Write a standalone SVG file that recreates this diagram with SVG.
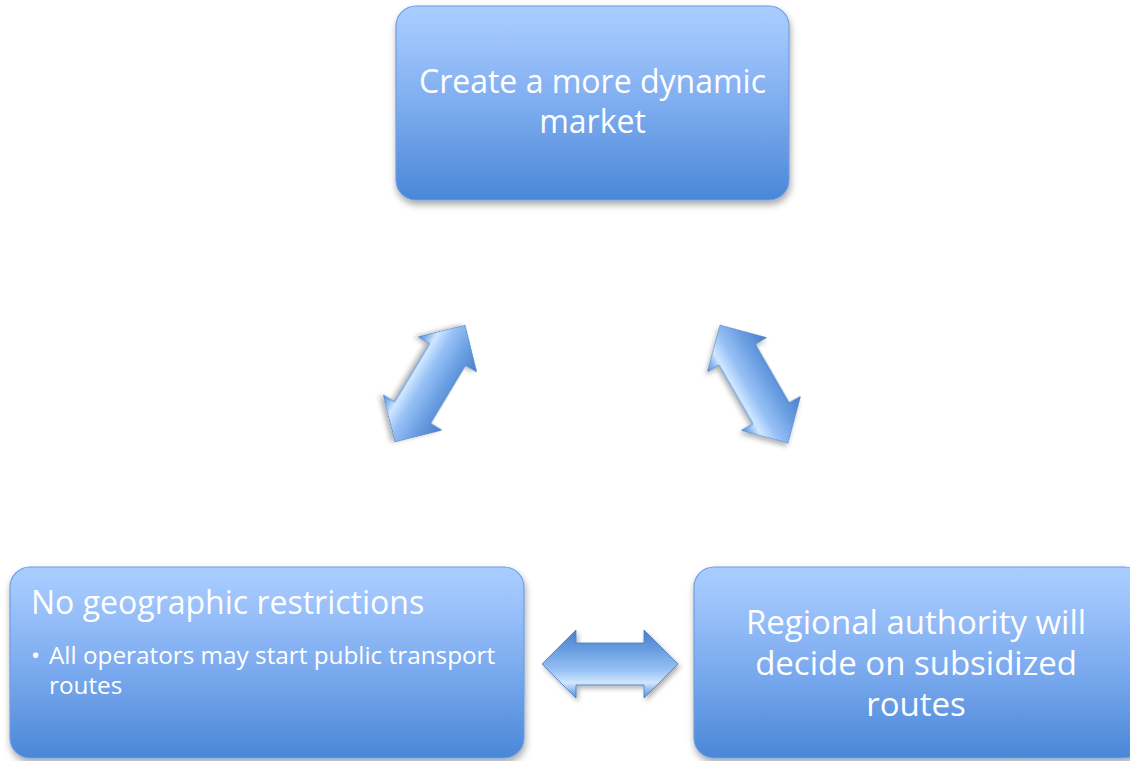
<svg xmlns="http://www.w3.org/2000/svg" width="1130" height="761" viewBox="0 0 1130 761">
<defs>
<linearGradient id="boxGrad" x1="0" y1="0" x2="0" y2="1">
<stop offset="0" stop-color="#a9cdff"/>
<stop offset="0.12" stop-color="#a2c7fd"/>
<stop offset="0.5" stop-color="#7fadf0"/>
<stop offset="1" stop-color="#4a87d8"/>
</linearGradient>
<linearGradient id="arrowGrad" x1="0" y1="0" x2="0" y2="1">
<stop offset="0" stop-color="#4a80c9"/>
<stop offset="0.3" stop-color="#6a9ee2"/>
<stop offset="0.6" stop-color="#98c2f6"/>
<stop offset="0.78" stop-color="#d0e7ff"/>
<stop offset="0.9" stop-color="#86b4f0"/>
<stop offset="1" stop-color="#5a8ed6"/>
</linearGradient>
<filter id="shadow" x="-10%" y="-10%" width="125%" height="130%">
<feDropShadow dx="1" dy="4" stdDeviation="3.5" flood-color="#000" flood-opacity="0.35"/>
</filter>
<filter id="ashadow" x="-20%" y="-20%" width="150%" height="150%">
<feDropShadow dx="2" dy="3" stdDeviation="2.5" flood-color="#000" flood-opacity="0.3"/>
</filter>
<polygon id="dblArrow" points="-68,0 -34,-34 -34,-21 34,-21 34,-34 68,0 34,34 34,21 -34,21 -34,34"/>
</defs>
<style>
.box { fill: url(#boxGrad); stroke: #6d9ee2; stroke-width: 1.2; filter: url(#shadow); }
.arrow { fill: url(#arrowGrad); stroke: #4678c0; stroke-width: 0.8; filter: url(#ashadow); }
.t { font-family: "Open Sans", "Noto Sans", "DejaVu Sans", sans-serif; fill: #ffffff; }
.big { font-size: 32px; }
.big2 { font-size: 33px; }
.small { font-size: 24.3px; }
</style>
<rect width="1130" height="761" fill="#ffffff"/>

<g id="connectors">
<use href="#dblArrow" class="arrow" transform="translate(430,383.5) rotate(121)"/>
<use href="#dblArrow" class="arrow" transform="translate(754,384) rotate(60)"/>
<use href="#dblArrow" class="arrow" transform="translate(610,664)"/>
</g>

<g id="node-market">
<rect class="box" x="396" y="6" width="393" height="194" rx="20" ry="20"/>
<text class="t big" x="592.5" y="93" text-anchor="middle">Create a more dynamic</text>
<text class="t big" x="592.5" y="133" text-anchor="middle">market</text>
</g>

<g id="node-geographic">
<rect class="box" x="10" y="567" width="514" height="191" rx="20" ry="20"/>
<text class="t big" x="31" y="614">No geographic restrictions</text>
<text class="t small" y="664"><tspan x="31">•</tspan><tspan x="49">All operators may start public transport</tspan></text>
<text class="t small" x="49" y="694">routes</text>
</g>

<g id="node-regional">
<rect class="box" x="694" y="567" width="450" height="191" rx="20" ry="20"/>
<text class="t big2" x="916" y="634" text-anchor="middle">Regional authority will</text>
<text class="t big2" x="916" y="675" text-anchor="middle">decide on subsidized</text>
<text class="t big2" x="916" y="716" text-anchor="middle">routes</text>
</g>
</svg>
